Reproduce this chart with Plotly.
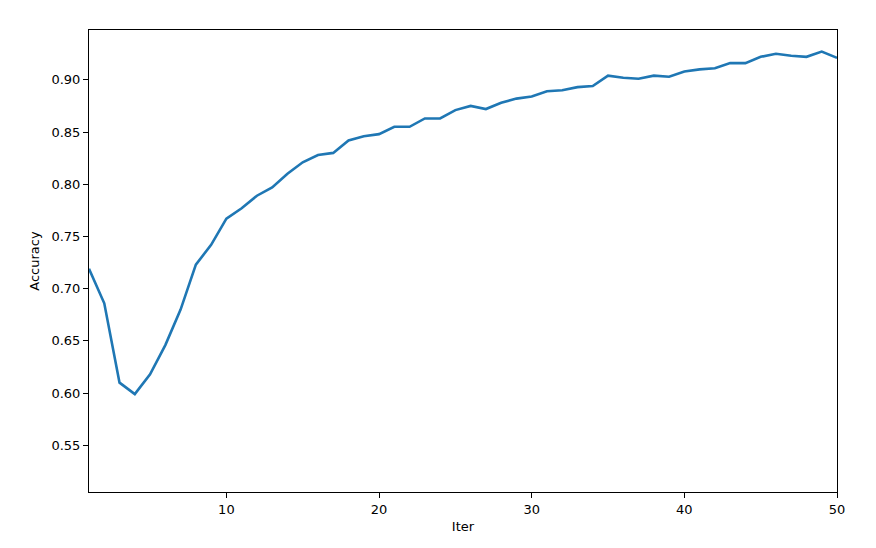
import plotly.graph_objects as go

iters = list(range(1, 51))
accuracy = [0.719, 0.686, 0.610, 0.599, 0.618, 0.646, 0.680, 0.723, 0.742, 0.767,
            0.777, 0.789, 0.797, 0.810, 0.821, 0.828, 0.830, 0.842, 0.846, 0.848,
            0.855, 0.855, 0.863, 0.863, 0.871, 0.875, 0.872, 0.878, 0.882, 0.884,
            0.889, 0.890, 0.893, 0.894, 0.904, 0.902, 0.901, 0.904, 0.903, 0.908,
            0.910, 0.911, 0.916, 0.916, 0.922, 0.925, 0.923, 0.922, 0.927, 0.921]
x_ticks = [10, 20, 30, 40, 50]
y_ticks = [0.55, 0.60, 0.65, 0.70, 0.75, 0.80, 0.85, 0.90]

fig = go.Figure(go.Scatter(x=iters, y=accuracy, mode="lines",
                           line=dict(color="#1f77b4", width=2.6)))

font = dict(family="DejaVu Sans", size=13, color="black")
fig.update_layout(
    width=876, height=548,
    margin=dict(l=81, r=47, t=22, b=64),
    paper_bgcolor="white", plot_bgcolor="white",
    showlegend=False, font=font,
)
fig.update_xaxes(range=[1, 50], tickvals=x_ticks, ticks="outside", ticklen=5,
                 tickcolor="black", showline=True, linecolor="black", linewidth=1,
                 mirror=True, showgrid=False, zeroline=False, automargin=False,
                 title=dict(text="Iter", standoff=6, font=font))
fig.update_yaxes(range=[0.5053, 0.9477], tickvals=y_ticks, tickformat=".2f",
                 ticks="outside", ticklen=5, tickcolor="black", showline=True,
                 linecolor="black", linewidth=1, mirror=True, showgrid=False,
                 zeroline=False, automargin=False,
                 title=dict(text="Accuracy", standoff=8, font=font))

fig.write_html("out.html")
